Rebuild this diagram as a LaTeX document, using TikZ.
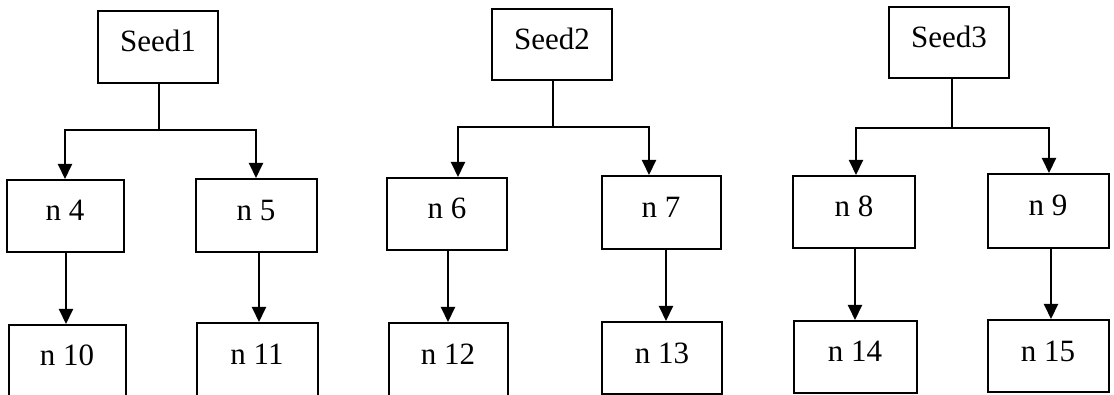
\documentclass[tikz,border=0pt]{standalone}
\usepackage{fontspec}
\setmainfont{Liberation Serif}
\usetikzlibrary{arrows.meta}
\begin{document}
\begin{tikzpicture}[x=1pt,y=-1pt,
  box/.style={draw, line width=2pt, inner sep=0pt, minimum width=120pt, minimum height=72pt,
    text height=20pt, text depth=10pt, font=\fontsize{31}{31}\selectfont},
  conn/.style={line width=2pt},
  arr/.style={line width=2pt, -{Triangle[width=14pt,length=15pt]}}]
\useasboundingbox (0,0) rectangle (1114,395);
% tree 1
\node[box] (seed1) at (158,47) {Seed1};
\node[box, minimum width=117pt] (n4) at (65,216) {n 4};
\node[box, minimum width=121pt, minimum height=73pt] (n5) at (256,215.5) {n 5};
\node[box, minimum width=117pt] (n10) at (67,361) {n 10};
\node[box, minimum width=121pt, minimum height=73pt] (n11) at (257,359.5) {n 11};
\coordinate (b1) at (159,130);
\draw[conn] (seed1.south -| b1) -- (b1);
\draw[arr] (b1) -| (n4.north);
\draw[arr] (b1) -| (n5.north);
\draw[arr] ([xshift=1pt]n4.south) -- ([xshift=-1pt]n10.north);
\draw[arr] ([xshift=3pt]n5.south) -- ([xshift=2pt]n11.north);
% tree 2
\node[box, minimum height=71pt] (seed2) at (552,44.5) {Seed2};
\node[box] (n6) at (447,214) {n 6};
\node[box, minimum width=119pt, minimum height=73pt] (n7) at (661,212.5) {n 7};
\node[box, minimum width=119pt, minimum height=73pt] (n12) at (448,359.5) {n 12};
\node[box] (n13) at (662,358) {n 13};
\coordinate (b2) at (553,127);
\draw[conn] (seed2.south -| b2) -- (b2);
\draw[arr] (b2) -| ([xshift=11pt]n6.north);
\draw[arr] (b2) -| ([xshift=-12pt]n7.north);
\draw[arr] ([xshift=1pt]n6.south) -- ([xshift=0pt]n12.north);
\draw[arr] ([xshift=5pt]n7.south) -- ([xshift=4pt]n13.north);
% tree 3
\node[box, minimum height=71pt] (seed3) at (949,42.5) {Seed3};
\node[box, minimum width=122pt] (n8) at (854,212) {n 8};
\node[box, minimum width=121pt, minimum height=74pt] (n9) at (1048,211) {n 9};
\node[box, minimum width=123pt] (n14) at (855,357) {n 14};
\node[box, minimum width=121pt] (n15) at (1048,356) {n 15};
\coordinate (b3) at (952,128);
\draw[conn] (seed3.south -| b3) -- (b3);
\draw[arr] (b3) -| ([xshift=2pt]n8.north);
\draw[arr] (b3) -| ([xshift=1pt]n9.north);
\draw[arr] ([xshift=1pt]n8.south) -- ([xshift=0pt]n14.north);
\draw[arr] ([xshift=3pt]n9.south) -- ([xshift=3pt]n15.north);
\end{tikzpicture}
\end{document}
